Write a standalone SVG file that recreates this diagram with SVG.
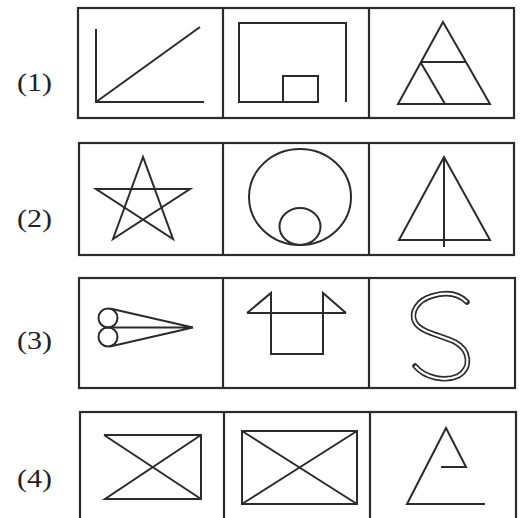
<svg xmlns="http://www.w3.org/2000/svg" width="527" height="518" viewBox="0 0 527 518">
<style>
.bx{fill:none;stroke:#2b2b2b;stroke-width:2.2}
.fg{fill:none;stroke:#2b2b2b;stroke-width:2;stroke-linejoin:miter}
.lb{font-family:"Liberation Serif","DejaVu Serif",serif;font-size:26px;fill:#222}
</style>
<rect x="0" y="0" width="527" height="518" fill="#fff"/>
<g id="labels">
<text class="lb" x="17" y="91" textLength="35" lengthAdjust="spacingAndGlyphs">(1)</text>
<text class="lb" x="17" y="227" textLength="35" lengthAdjust="spacingAndGlyphs">(2)</text>
<text class="lb" x="17" y="349" textLength="35" lengthAdjust="spacingAndGlyphs">(3)</text>
<text class="lb" x="17" y="487" textLength="35" lengthAdjust="spacingAndGlyphs">(4)</text>
</g>
<g id="frames">
<rect class="bx" x="78" y="8" width="436" height="110"/>
<path class="bx" d="M223,8V118M369,8V118"/>
<rect class="bx" x="79" y="143" width="435" height="112"/>
<path class="bx" d="M223,143V255M369,143V255"/>
<rect class="bx" x="79" y="278" width="436" height="110"/>
<path class="bx" d="M223,278V388M369,278V388"/>
<rect class="bx" x="80" y="412" width="436" height="115"/>
<path class="bx" d="M224,412V527M370,412V527"/>
</g>
<g id="r1c1"><path class="fg" d="M96,29V102H204M96,102L200,27"/></g>
<g id="r1c2"><path class="fg" d="M346,102V23H239V102H318V76H283V102"/></g>
<g id="r1c3"><path class="fg" d="M443,22L398,104H490Z M421,62H466 M421,63L445,104"/></g>
<g id="r2c1"><polygon class="fg" points="143,157 113,239 190,189 96,189 173,239"/></g>
<g id="r2c2"><ellipse class="fg" cx="300" cy="197" rx="51" ry="48"/><ellipse class="fg" cx="300" cy="226.5" rx="20.5" ry="18.5"/></g>
<g id="r2c3"><path class="fg" d="M444,157L399,240H490Z M444,157V247"/></g>
<g id="r3c1"><circle class="fg" cx="108" cy="318" r="9.5"/><circle class="fg" cx="108" cy="337" r="9.5"/><path class="fg" d="M110,308.6L193,327.5M108,327.5H193M110,346.4L193,327.5"/></g>
<g id="r3c2"><path class="fg" d="M247,313H346M247,313L271,293V354H323V293L346,313"/></g>
<g id="r3c3"><path d="M467,302C458,293 445,292 432,296C418,300 410,312 415,322C420,332 440,335 455,342C470,350 472,368 458,376C445,382 425,378 415,366" fill="none" stroke="#2b2b2b" stroke-width="5.5" stroke-linecap="round"/><path d="M467,302C458,293 445,292 432,296C418,300 410,312 415,322C420,332 440,335 455,342C470,350 472,368 458,376C445,382 425,378 415,366" fill="none" stroke="#fff" stroke-width="2.2" stroke-linecap="butt"/></g>
<g id="r4c1"><path class="fg" d="M104,435H201V499H105L201,435M104,435L201,499"/></g>
<g id="r4c2"><rect class="fg" x="242" y="431" width="115" height="73"/><path class="fg" d="M242,431L357,504M242,504L357,431"/></g>
<g id="r4c3"><path class="fg" d="M485,504H407L446,428L466,467H441"/></g>
</svg>
